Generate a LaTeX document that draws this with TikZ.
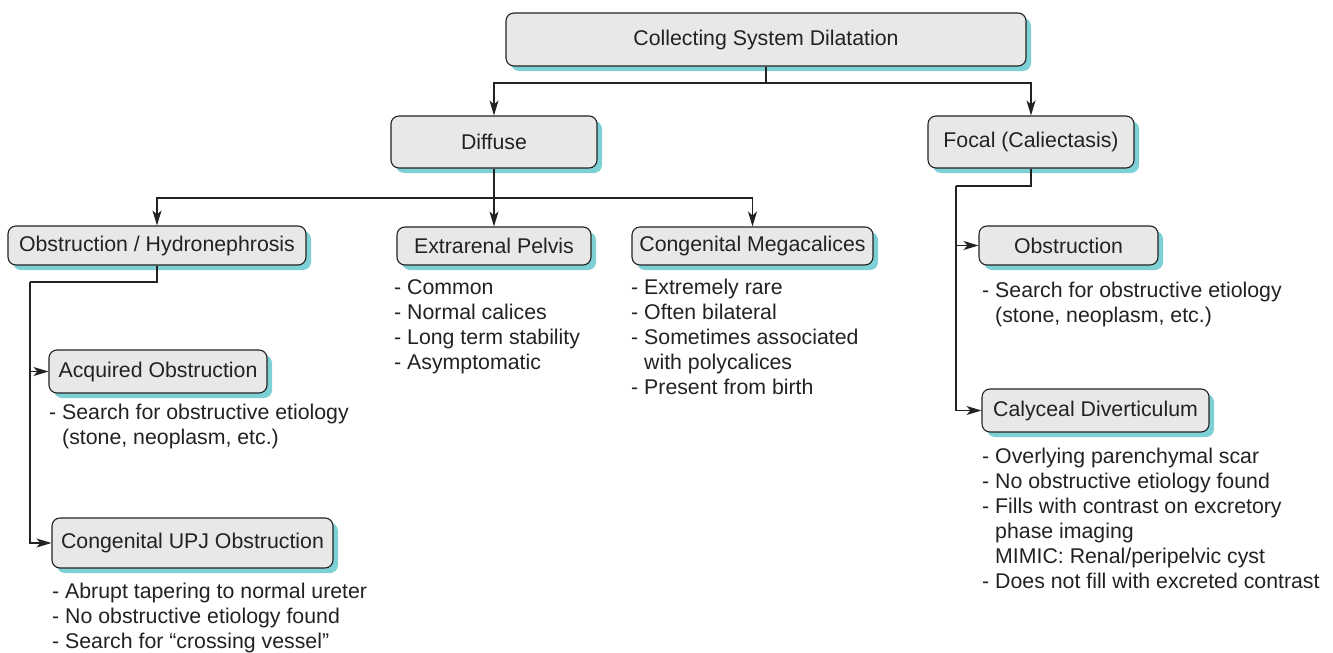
\documentclass[tikz,border=0pt]{standalone}
\usepackage{fontspec}
\setmainfont{Liberation Sans}
\usetikzlibrary{shadows,arrows.meta}
\definecolor{boxfill}{HTML}{E8E8E8}
\definecolor{shade}{HTML}{7CD0D6}
\definecolor{ink}{HTML}{222222}
\newcommand\ind{\hphantom{-\ }}
\begin{document}
\begin{tikzpicture}[x=1pt,y=-1pt,
  box/.style={draw=ink, line width=1.1pt, fill=boxfill, rounded corners=8pt, text=ink,
    font=\fontsize{21.3}{25}\selectfont, inner sep=0pt,
    drop shadow={shadow xshift=5pt, shadow yshift=-5pt, fill=shade, opacity=1, draw=none}},
  list/.style={anchor=north west, inner sep=0pt, align=left, text=ink, font=\fontsize{21.3}{25}\selectfont},
  conn/.style={draw=ink, line width=1.1pt, -{Stealth[length=15pt,width=9pt,inset=4pt]}},
  plain/.style={draw=ink, line width=1.1pt}]
\useasboundingbox (0,0) rectangle (1333,653);
\fill[white] (0,0) rectangle (1333,653);

\node[box, minimum width=520pt, minimum height=53pt] (top) at (766,39.5) {Collecting System Dilatation};
\node[box, minimum width=206pt, minimum height=52pt] (diffuse) at (494,142) {Diffuse};
\node[box, minimum width=206pt, minimum height=52pt] (focal) at (1031,142) {Focal (Caliectasis)};
\node[box, minimum width=298pt, minimum height=39pt] (hydro) at (157,245.5) {Obstruction / Hydronephrosis};
\node[box, minimum width=194pt, minimum height=38pt] (extra) at (494,246) {Extrarenal Pelvis};
\node[box, minimum width=241pt, minimum height=38pt] (mega) at (752.5,246) {Congenital Megacalices};
\node[box, minimum width=179pt, minimum height=39pt] (obst) at (1068.5,245.5) {Obstruction};
\node[box, minimum width=218pt, minimum height=43pt] (acq) at (158,371.5) {Acquired Obstruction};
\node[box, minimum width=281pt, minimum height=50pt] (upj) at (192.5,543) {Congenital UPJ Obstruction};
\node[box, minimum width=227pt, minimum height=43pt] (caly) at (1095.5,410.5) {Calyceal Diverticulum};

\node[list] (extratext) at (394,279) {- Common\\- Normal calices\\- Long term stability\\- Asymptomatic};
\node[list] (megatext) at (631,279) {- Extremely rare\\- Often bilateral\\- Sometimes associated\\\ind with polycalices\\- Present from birth};
\node[list] (obsttext) at (982,282) {- Search for obstructive etiology\\\ind(stone, neoplasm, etc.)};
\node[list] (acqtext) at (49,404) {- Search for obstructive etiology\\\ind(stone, neoplasm, etc.)};
\node[list] (upjtext) at (52,583) {- Abrupt tapering to normal ureter\\- No obstructive etiology found\\- Search for “crossing vessel”};
\node[list] (calytext) at (982,448) {- Overlying parenchymal scar\\- No obstructive etiology found\\- Fills with contrast on excretory\\\ind phase imaging\\\ind MIMIC: Renal/peripelvic cyst\\- Does not fill with excreted contrast};

\coordinate (jt) at (766,83);
\coordinate (jd) at (494,198);
\coordinate (jl) at (30,282);
\coordinate (jr) at (956,186);

\draw[plain] (top.south) -- (jt);
\draw[conn] (jt) -| (diffuse.north);
\draw[conn] (jt) -| (focal.north);
\draw[plain] (diffuse.south) -- (jd);
\draw[conn] (jd) -| (hydro.north);
\draw[conn] (jd) -- (extra.north);
\draw[conn] (jd) -| (mega.north);
\draw[plain] (hydro.south) |- (jl);
\draw[conn] (jl) |- (acq.west);
\draw[conn] (jl) |- (upj.west);
\draw[plain] (focal.south) |- (jr);
\draw[conn] (jr) |- (obst.west);
\draw[conn] (jr) |- (caly.west);
\end{tikzpicture}
\end{document}
